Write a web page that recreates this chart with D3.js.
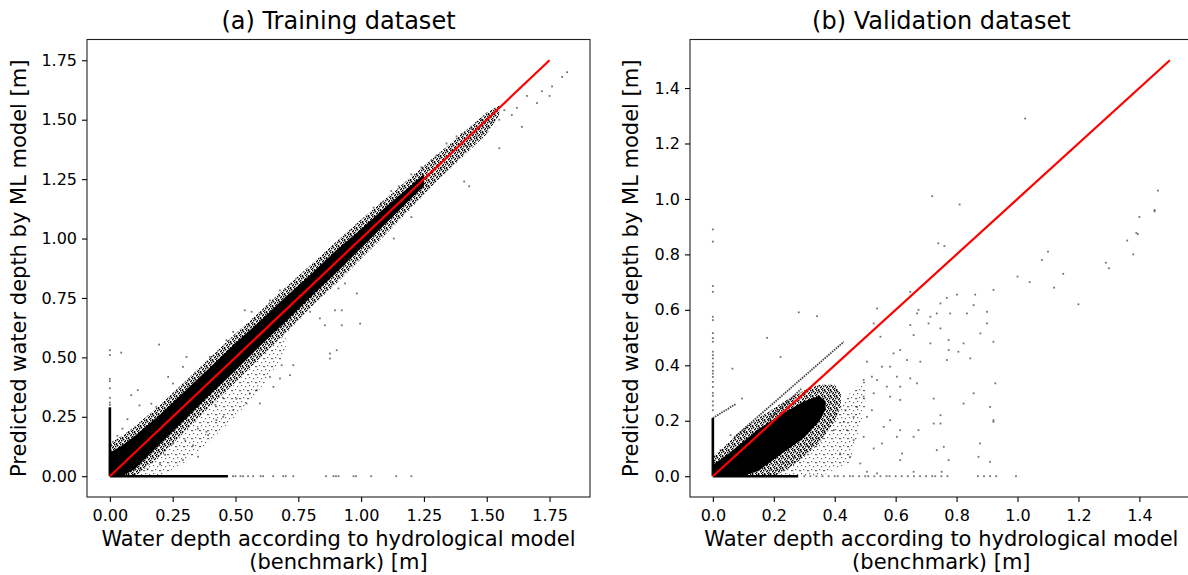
<!DOCTYPE html>
<html lang="en">
<head>
<meta charset="UTF-8">
<title>Predicted vs benchmark water depth</title>
<style>
  body { margin: 0; background: #fff; }
  svg text { font-family: "DejaVu Sans", sans-serif; fill: #000; }
</style>
</head>
<body>
<div id="chart"></div>
<script src="https://d3js.org/d3.v7.min.js"></script>
<script>
// ---- values (all in metres) ----

// (a) training: dense band around the 1:1 line
const trainCoreX  = [0, 0.05, 0.1, 0.2, 0.3, 0.4, 0.5, 0.6, 0.7, 0.8, 0.9, 1.0, 1.1, 1.2, 1.25];
const trainCoreHi = [0.1, 0.13, 0.17, 0.26, 0.36, 0.46, 0.56, 0.655, 0.755, 0.85, 0.95, 1.04, 1.135, 1.225, 1.27];
const trainCoreLo = [0, 0, 0.03, 0.135, 0.24, 0.345, 0.445, 0.55, 0.65, 0.755, 0.855, 0.96, 1.065, 1.17, 1.22];
const trainHaloX  = [0, 0.05, 0.1, 0.2, 0.3, 0.4, 0.5, 0.6, 0.7, 0.8, 0.9, 1.0, 1.1, 1.2, 1.3, 1.4, 1.5, 1.55];
const trainHaloHi = [0.14, 0.17, 0.21, 0.3, 0.4, 0.5, 0.6, 0.695, 0.795, 0.89, 0.985, 1.08, 1.17, 1.26, 1.35, 1.44, 1.53, 1.56];
const trainHaloLo = [0, 0, 0, 0.085, 0.19, 0.295, 0.395, 0.5, 0.6, 0.71, 0.81, 0.915, 1.02, 1.13, 1.24, 1.34, 1.44, 1.52];
const trainTailX  = [0.08, 0.2, 0.3, 0.4, 0.5, 0.6, 0.7];
const trainTailHi = [0, 0.09, 0.19, 0.29, 0.39, 0.5, 0.6];
const trainTailLo = [0, 0, 0.06, 0.15, 0.25, 0.37, 0.52];
const trainZeroCol = 0.29;   // benchmark = 0, dense up to this prediction
const trainZeroRow = 0.47;   // prediction = 0, dense up to this benchmark
const trainDiagonal = [0, 1.75];
const trainPoints = [
  [0,0.30],[0,0.31],[0,0.33],[0,0.37],[0,0.40],[0,0.41],[0,0.51],[0,0.53],
  [0.49,0],[0.5,0],[0.52,0],[0.53,0],[0.55,0],[0.57,0],[0.60,0],[0.61,0],[0.65,0],[0.69,0],[0.70,0],
  [0.73,0],[0.86,0],[0.89,0],[0.90,0],[0.91,0],[0.97,0],[0.98,0],[1.04,0],[1.14,0],[1.20,0],
  [0.045,0.52],[0.196,0.554],[0.085,0.341],[0.111,0.362],[0.118,0.298],[0.165,0.305],[0.185,0.292],
  [0.232,0.418],[0.251,0.39],[0.291,0.46],[0.305,0.502],[0.398,0.502],[0.464,0.572],[0.491,0.607],
  [0.537,0.698],[0.564,0.692],[0.637,0.74],[0.677,0.782],[0.05,0.2],[0.07,0.24],[0.03,0.17],
  [0.291,0.068],[0.351,0.082],[0.384,0.187],[0.391,0.173],[0.331,0.13],[0.251,0.137],[0.424,0.236],
  [0.451,0.25],[0.491,0.278],[0.544,0.306],[0.597,0.306],[0.504,0.326],[0.557,0.348],[0.584,0.362],
  [0.651,0.376],[0.637,0.418],[0.717,0.425],[0.677,0.411],[0.73,0.467],[0.684,0.467],[0.876,0.516],
  [0.876,0.495],[0.903,0.53],[0.856,0.635],[0.923,0.635],[0.996,0.642],[0.896,0.698],[0.923,0.698],
  [0.836,0.664],[0.797,0.692],[0.983,0.769],[0.936,0.811],[0.91,0.79],[0.2,0.05],[0.15,0.03],
  [0.22,0.09],[0.3,0.15],[0.35,0.2],[0.42,0.3],[0.45,0.33],
  [1.05,1.13],[1.08,1.15],[1.1,1.12],[1.12,1.2],[1.15,1.22],[1.17,1.18],[1.2,1.27],[1.22,1.24],
  [1.24,1.3],[1.26,1.22],[1.28,1.33],[1.3,1.35],[1.32,1.3],[1.34,1.4],[1.36,1.37],[1.38,1.43],
  [1.4,1.44],[1.42,1.39],[1.44,1.46],[1.46,1.43],[1.48,1.5],[1.5,1.47],[1.52,1.49],[1.55,1.5],
  [1.57,1.54],[1.6,1.52],[1.62,1.55],[1.64,1.47],[1.66,1.6],[1.7,1.57],[1.72,1.62],[1.75,1.6],
  [1.76,1.64],[1.8,1.68],[1.82,1.7],[1.13,1.0],[1.2,1.09],[1.41,1.24],[1.43,1.22],[1.55,1.38]
];
const trainTicks = [0, 0.25, 0.5, 0.75, 1.0, 1.25, 1.5, 1.75];

// (b) validation: dense wedge below the 1:1 line
const valCoreX  = [0, 0.05, 0.1, 0.15, 0.2, 0.25, 0.3, 0.35, 0.37];
const valCoreHi = [0.04, 0.08, 0.125, 0.17, 0.205, 0.24, 0.27, 0.29, 0.27];
const valCoreLo = [0, 0, 0, 0.02, 0.06, 0.1, 0.14, 0.2, 0.24];
const valHaloX  = [0, 0.05, 0.1, 0.15, 0.2, 0.25, 0.3, 0.35, 0.4, 0.42];
const valHaloHi = [0.07, 0.12, 0.17, 0.21, 0.245, 0.28, 0.31, 0.33, 0.33, 0.3];
const valHaloLo = [0, 0, 0, 0, 0, 0.03, 0.07, 0.12, 0.2, 0.25];
const valTailX  = [0.15, 0.25, 0.35, 0.45, 0.5];
const valTailHi = [0, 0.06, 0.15, 0.3, 0.35];
const valTailLo = [0, 0, 0, 0.05, 0.25];
const valZeroCol = 0.21;
const valZeroRow = 0.28;
const valDiagonal = [0, 1.5];
const valStreaks = [
  [[0.0, 0.21], [0.075, 0.26]],
  [[0.07, 0.14], [0.43, 0.485]],
  [[0.18, 0.2], [0.29, 0.315]]
];
const valPoints = [
  [0,0.89],[0,0.846],[0,0.686],[0,0.665],[0,0.575],[0,0.563],[0,0.516],[0,0.498],[0,0.485],[0,0.449],
  [0,0.437],[0,0.425],[0,0.407],[0,0.395],[0,0.38],[0,0.37],[0,0.358],[0,0.34],[0,0.322],[0,0.30],
  [0,0.29],[0,0.27],[0,0.255],[0,0.238],
  [0.30,0],[0.32,0],[0.34,0],[0.36,0],[0.38,0],[0.40,0],[0.41,0],[0.43,0],[0.45,0],[0.46,0],[0.48,0],
  [0.50,0],[0.51,0],[0.53,0],[0.55,0],[0.57,0],[0.58,0],[0.60,0],[0.62,0],[0.64,0],[0.66,0],[0.68,0],
  [0.70,0],[0.72,0],[0.73,0],[0.75,0],[0.77,0],[0.87,0],[0.89,0],[0.91,0],[0.93,0],[0.995,0],
  [0.648,0.665],[0.747,0.623],[0.768,0.643],[0.801,0.655],[0.861,0.655],[0.921,0.672],[0.856,0.617],
  [0.9,0.593],[0.834,0.587],[0.779,0.587],[0.735,0.587],[0.714,0.575],[0.67,0.587],[0.708,0.551],
  [0.659,0.509],[0.648,0.545],[0.747,0.533],[0.774,0.491],[0.714,0.479],[0.9,0.551],[0.878,0.515],
  [0.921,0.485],[0.823,0.479],[0.774,0.455],[0.806,0.449],[0.845,0.425],[0.927,0.335],[0.856,0.299],
  [0.91,0.25],[0.921,0.196],[0.823,0.262],[0.747,0.22],[0.725,0.28],[0.768,0.419],[0.681,0.413],
  [0.615,0.455],[0.637,0.419],[0.593,0.443],[0.582,0.395],[0.555,0.395],[0.539,0.347],[0.522,0.359],
  [0.604,0.359],[0.648,0.353],[0.615,0.323],[0.571,0.323],[0.506,0.413],[0.528,0.551],[0.55,0.503],
  [0.539,0.605],[0.675,0.6],[0.67,0.335],[0.528,0.299],[0.495,0.287],[0.582,0.287],[0.615,0.275],
  [0.495,0.347],[0.473,0.25],[0.435,0.238],[0.522,0.238],[0.462,0.214],[0.506,0.214],[0.43,0.196],
  [0.375,0.19],[0.397,0.166],[0.44,0.166],[0.462,0.13],[0.495,0.142],[0.528,0.1],[0.484,0.046],
  [0.451,0.07],[0.418,0.082],[0.615,0.058],[0.621,0.082],[0.735,0.094],[0.758,0.106],[0.774,0.058],
  [0.604,0.142],[0.659,0.142],[0.675,0.166],[0.725,0.19],[0.615,0.166],[0.747,0.19],[0.561,0.178],
  [0.582,0.202],[0.555,0.118],[0.872,0.07],[0.91,0.052],[0.921,0.202],[0.877,0.118],[0.659,0.016],
  [0.539,0.01],[0.751,0.016],[0.506,0.016],
  [0.282,0.591],[0.342,0.577],[0.178,0.499],[0.222,0.43],[0.064,0.388],[0.096,0.28],[0.058,0.148],
  [0.025,0.094],[0.102,0.16],
  [1.025,1.29],[0.72,1.01],[0.81,0.98],[0.74,0.84],[0.76,0.83],[1.1,0.81],[1.08,0.78],[1.0,0.72],
  [1.04,0.7],[1.12,0.68],[1.2,0.62],[1.15,0.73],[1.461,1.03],[1.45,0.96],[1.45,0.955],[1.40,0.935],
  [1.39,0.877],[1.395,0.873],[1.36,0.85],[1.38,0.80],[1.29,0.77],[1.30,0.75]
];
const valTicks = [0, 0.2, 0.4, 0.6, 0.8, 1.0, 1.2, 1.4];

const xLabel = ["Water depth according to hydrological model", "(benchmark) [m]"];
const yLabel = "Predicted water depth by ML model [m]";

// ---- layout ----
const width = 1188, height = 575;
const svg = d3.select("#chart").append("svg")
  .attr("width", width)
  .attr("height", height);

// speckle fills that stand in for thousands of overlapping dots
const defs = svg.append("defs");
const dense = defs.append("pattern").attr("id", "speckDense")
  .attr("width", 6).attr("height", 6).attr("patternUnits", "userSpaceOnUse");
[[0,0],[3,1],[1,2],[4,3],[0,4],[2,5],[5,5],[2,0],[5,2]].forEach(d => {
  dense.append("rect").attr("x", d[0]).attr("y", d[1]).attr("width", 1.4).attr("height", 1.4).attr("fill", "#000");
});
const light = defs.append("pattern").attr("id", "speckLight")
  .attr("width", 8).attr("height", 8).attr("patternUnits", "userSpaceOnUse");
[[1,1],[5,2],[3,5],[7,6],[0,6]].forEach(d => {
  light.append("rect").attr("x", d[0]).attr("y", d[1]).attr("width", 1.2).attr("height", 1.2)
    .attr("fill", "#000").attr("fill-opacity", 0.6);
});

function padded(lo, hi) {
  const m = (hi - lo) * 0.05;
  return [lo - m, hi + m];
}

function drawPanel(p) {
  const allX = p.points.map(d => d[0]).concat(p.diagonal);
  const allY = p.points.map(d => d[1]).concat(p.diagonal);
  const x = d3.scaleLinear().domain(padded(0, d3.max(allX))).range([p.left, p.right]);
  const y = d3.scaleLinear().domain(padded(0, d3.max(allY))).range([p.bottom, p.top]);

  const g = svg.append("g");
  const area = d3.area().x(d => x(d[0])).y0(d => y(d[2])).y1(d => y(d[1]));

  // density layers, faint to dark
  g.append("path").datum(d3.zip(p.tail.x, p.tail.hi, p.tail.lo))
    .attr("d", area).attr("fill", "url(#speckLight)");
  g.append("path").datum(d3.zip(p.halo.x, p.halo.hi, p.halo.lo))
    .attr("d", area).attr("fill", "url(#speckDense)");
  g.append("path").datum(d3.zip(p.core.x, p.core.hi, p.core.lo))
    .attr("d", area).attr("fill", "#000");

  // dense strips along the axes (zero benchmark / zero prediction)
  g.append("line")
    .attr("x1", x(0)).attr("x2", x(0)).attr("y1", y(0)).attr("y2", y(p.zeroCol))
    .attr("stroke", "#000").attr("stroke-width", 2.6);
  g.append("line")
    .attr("x1", x(0)).attr("x2", x(p.zeroRow)).attr("y1", y(0)).attr("y2", y(0))
    .attr("stroke", "#000").attr("stroke-width", 2.6);

  (p.streaks || []).forEach(s => {
    g.append("line")
      .attr("x1", x(s[0][0])).attr("y1", y(s[0][1]))
      .attr("x2", x(s[1][0])).attr("y2", y(s[1][1]))
      .attr("stroke", "#000").attr("stroke-opacity", 0.75).attr("stroke-width", 1.8)
      .attr("stroke-dasharray", "1.5,1");
  });

  g.append("g").selectAll("rect")
    .data(p.points)
    .enter().append("rect")
    .attr("x", d => x(d[0]) - 0.9)
    .attr("y", d => y(d[1]) - 0.9)
    .attr("width", 1.8)
    .attr("height", 1.8)
    .attr("fill", "#000")
    .attr("fill-opacity", 0.55);

  // 1:1 line
  g.append("line")
    .attr("x1", x(p.diagonal[0])).attr("y1", y(p.diagonal[0]))
    .attr("x2", x(p.diagonal[1])).attr("y2", y(p.diagonal[1]))
    .attr("stroke", "red").attr("stroke-width", 2.2);

  // frame
  g.append("rect")
    .attr("x", p.left).attr("y", p.top)
    .attr("width", p.right - p.left).attr("height", p.bottom - p.top)
    .attr("fill", "none").attr("stroke", "#222").attr("stroke-width", 1.1);

  const fmt = d3.format(p.fmt);
  const xAxis = g.append("g").attr("transform", `translate(0,${p.bottom})`)
    .call(d3.axisBottom(x).tickValues(p.ticks).tickFormat(fmt).tickSize(5).tickSizeOuter(0).tickPadding(8));
  const yAxis = g.append("g").attr("transform", `translate(${p.left},0)`)
    .call(d3.axisLeft(y).tickValues(p.ticks).tickFormat(fmt).tickSize(5).tickSizeOuter(0).tickPadding(5));
  [xAxis, yAxis].forEach(a => {
    a.select(".domain").remove();
    a.selectAll("line").attr("stroke", "#000").attr("stroke-width", 1.1);
    a.selectAll("text").attr("font-size", 16).attr("font-family", "DejaVu Sans").attr("fill", "#000");
  });

  svg.append("text")
    .attr("x", (p.left + p.right) / 2).attr("y", 29)
    .attr("text-anchor", "middle").attr("font-size", 24)
    .text(p.title);

  svg.append("text")
    .attr("text-anchor", "middle").attr("font-size", 21)
    .selectAll("tspan").data(xLabel).enter().append("tspan")
    .attr("x", (p.left + p.right) / 2)
    .attr("y", (d, i) => 546 + i * 23)
    .text(d => d);

  svg.append("text")
    .attr("transform", `translate(${p.yLabelX},${(p.top + p.bottom) / 2}) rotate(-90)`)
    .attr("text-anchor", "middle").attr("font-size", 21)
    .text(yLabel);
}

drawPanel({
  title: "(a) Training dataset",
  left: 87, right: 590, top: 39.5, bottom: 497, yLabelX: 26,
  ticks: trainTicks, fmt: ".2f",
  core: { x: trainCoreX, hi: trainCoreHi, lo: trainCoreLo },
  halo: { x: trainHaloX, hi: trainHaloHi, lo: trainHaloLo },
  tail: { x: trainTailX, hi: trainTailHi, lo: trainTailLo },
  zeroCol: trainZeroCol, zeroRow: trainZeroRow,
  diagonal: trainDiagonal, points: trainPoints
});

drawPanel({
  title: "(b) Validation dataset",
  left: 690, right: 1192.7, top: 39.5, bottom: 497, yLabelX: 638,
  ticks: valTicks, fmt: ".1f",
  core: { x: valCoreX, hi: valCoreHi, lo: valCoreLo },
  halo: { x: valHaloX, hi: valHaloHi, lo: valHaloLo },
  tail: { x: valTailX, hi: valTailHi, lo: valTailLo },
  zeroCol: valZeroCol, zeroRow: valZeroRow, streaks: valStreaks,
  diagonal: valDiagonal, points: valPoints
});
</script>
</body>
</html>
